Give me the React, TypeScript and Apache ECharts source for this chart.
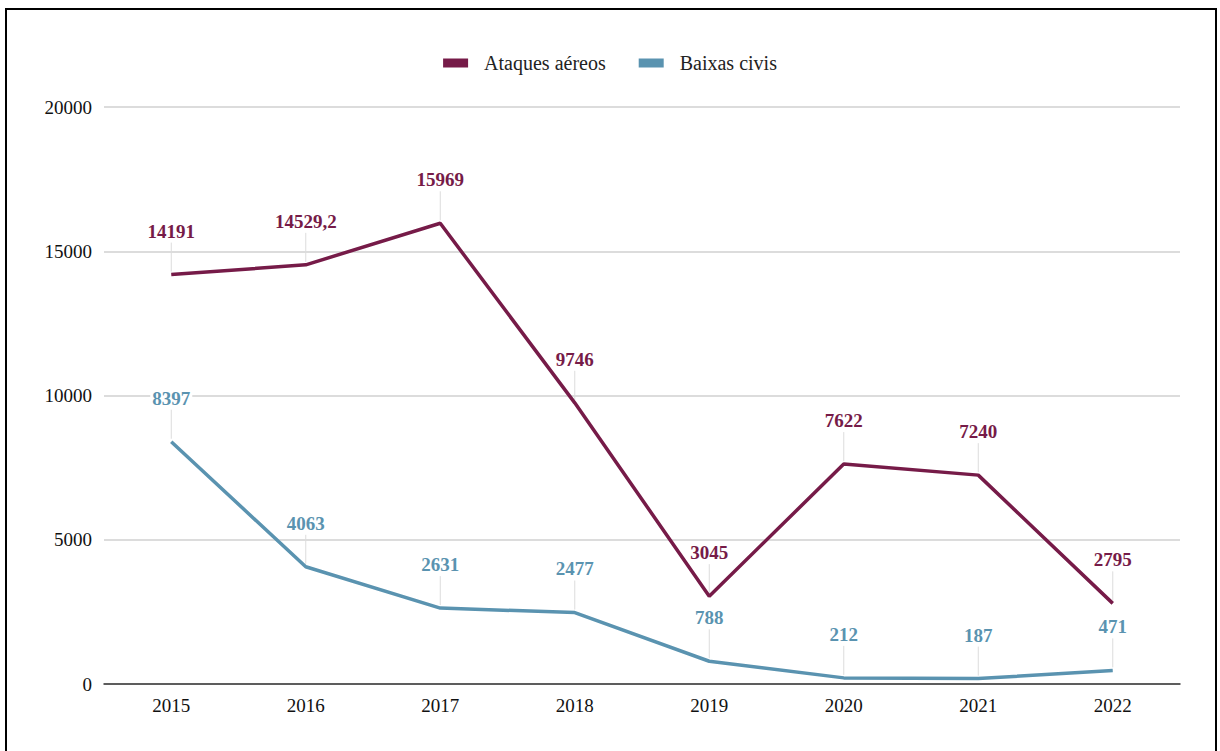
import React, { useEffect, useRef } from "react";
import * as echarts from "echarts";

const years = ["2015", "2016", "2017", "2018", "2019", "2020", "2021", "2022"];
const ataques = [14191, 14529.2, 15969, 9746, 3045, 7622, 7240, 2795];
const baixas = [8397, 4063, 2631, 2477, 788, 212, 187, 471];
const seriesNames = ["Ataques aéreos", "Baixas civis"];
const colors = ["#761b48", "#5a93b0"];

const FONT = "'Liberation Serif', 'Times New Roman', serif";

function leader(values: number[], name: string) {
  return {
    type: "custom",
    name: name + "-leader",
    silent: true,
    z: 1,
    data: values.map((v, i) => [i, v]),
    renderItem: (params: any, api: any) => {
      const p = api.coord([api.value(0), api.value(1)]);
      return {
        type: "line",
        shape: { x1: p[0], y1: p[1] - 3, x2: p[0], y2: p[1] - 32 },
        style: { stroke: "#dcdcdc", lineWidth: 1 },
      };
    },
  };
}

function lineSeries(name: string, values: number[], color: string) {
  return {
    type: "line",
    name,
    data: values,
    symbol: "circle",
    symbolSize: 0.1,
    showSymbol: true,
    z: 3,
    lineStyle: { color, width: 3.5 },
    itemStyle: { color },
    label: {
      show: true,
      position: "top",
      distance: 34,
      color,
      fontFamily: FONT,
      fontWeight: "bold",
      fontSize: 19,
      backgroundColor: "#fff",
      padding: [0, 2],
      formatter: (p: any) => String(p.value).replace(".", ","),
    },
  };
}

export default function App() {
  const ref = useRef<HTMLDivElement>(null);
  useEffect(() => {
    const chart = echarts.init(ref.current!, null, { renderer: "svg" });
    chart.setOption({
      animation: false,
      backgroundColor: "#fff",
      legend: {
        data: seriesNames,
        top: 48,
        left: "center",
        icon: "rect",
        itemWidth: 25,
        itemHeight: 9,
        itemGap: 33,
        textStyle: { fontFamily: FONT, fontSize: 20, color: "#222", padding: [0, 0, 0, 11] },
      },
      grid: { left: 104, right: 40, top: 107, bottom: 67, containLabel: false },
      xAxis: {
        type: "category",
        data: years,
        boundaryGap: true,
        axisLine: { lineStyle: { color: "#333", width: 1.5 } },
        axisTick: { show: false },
        axisLabel: { fontFamily: FONT, fontSize: 19, color: "#111", margin: 12 },
      },
      yAxis: {
        type: "value",
        min: 0,
        max: 20000,
        interval: 5000,
        axisLine: { show: false },
        axisTick: { show: false },
        axisLabel: {
          fontFamily: FONT,
          fontSize: 19,
          color: "#111",
          margin: 12,
          formatter: (v: number) => String(v),
        },
        splitLine: { lineStyle: { color: "#d0d0d0", width: 1.5 } },
      },
      graphic: [
        {
          type: "rect",
          shape: { x: 6, y: 9, width: 1210, height: 800 },
          style: { fill: "none", stroke: "#000", lineWidth: 2 },
          z: 100,
        },
      ],
      series: [
        leader(ataques, seriesNames[0]),
        leader(baixas, seriesNames[1]),
        lineSeries(seriesNames[0], ataques, colors[0]),
        lineSeries(seriesNames[1], baixas, colors[1]),
      ],
    });
    return () => chart.dispose();
  }, []);
  return (
    <div
      ref={ref}
      style={{ position: "fixed", left: 0, top: 0, width: 1220, height: 751 }}
    />
  );
}
